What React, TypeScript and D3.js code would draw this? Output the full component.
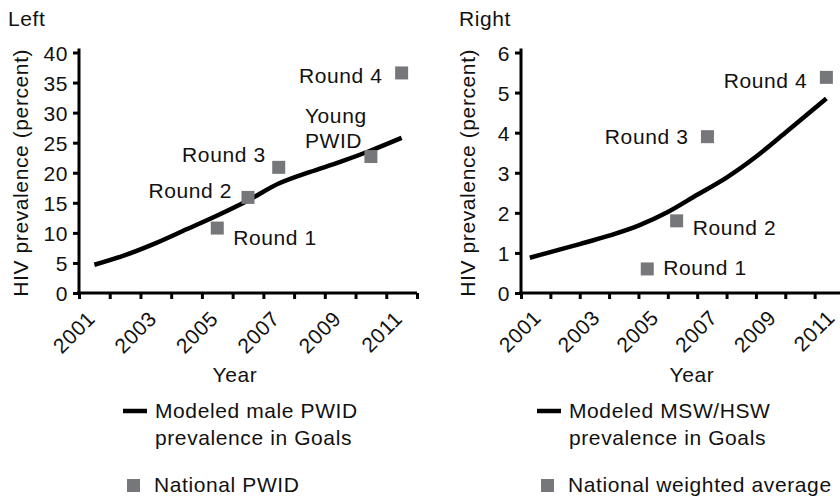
import * as d3 from 'd3'
import { useRef, useEffect } from 'react'

// modeled lines (years, percent)
const leftModelYears = [2001.5, 2002.5, 2003.5, 2004.5, 2005.5, 2006.5, 2007.5, 2008.5, 2009.5, 2010.5, 2011.5]
const leftModelValues = [4.7, 6.3, 8.3, 10.6, 12.9, 15.4, 18.2, 20.1, 21.8, 23.7, 25.8]
const rightModelYears = [2001.3, 2002, 2003, 2004, 2005, 2006, 2007, 2008, 2009, 2010, 2011.4]
const rightModelValues = [0.88, 1.02, 1.22, 1.43, 1.68, 2.02, 2.45, 2.88, 3.4, 4.0, 4.85]

// survey points
const leftPointLabels = ['Round 1', 'Round 2', 'Round 3', 'Young\nPWID', 'Round 4']
const leftPointYears = [2005.5, 2006.5, 2007.5, 2010.5, 2011.5]
const leftPointValues = [10.8, 15.9, 20.9, 22.7, 36.6]
const rightPointLabels = ['Round 1', 'Round 2', 'Round 3', 'Round 4']
const rightPointYears = [2005.3, 2006.3, 2007.35, 2011.4]
const rightPointValues = [0.6, 1.8, 3.9, 5.38]

const leftYTicks = [0, 5, 10, 15, 20, 25, 30, 35, 40]
const rightYTicks = [0, 1, 2, 3, 4, 5, 6]
const yearTicks = d3.range(2001, 2013)

// label placement relative to the point (pixels), anchor
const leftLabelPos = [
  { dx: 16, dy: 17, anchor: 'start' },
  { dx: -16, dy: 1, anchor: 'end' },
  { dx: -13, dy: -5, anchor: 'end' },
  { dx: -66, dy: -34, anchor: 'start' },
  { dx: -19, dy: 10, anchor: 'end' },
]
const rightLabelPos = [
  { dx: 16, dy: 6, anchor: 'start' },
  { dx: 16, dy: 14, anchor: 'start' },
  { dx: -19, dy: 7, anchor: 'end' },
  { dx: -19, dy: 11, anchor: 'end' },
]

const FONT = '"Liberation Sans", Arial, Helvetica, sans-serif'
const FS = 21
const GREY = '#76777b'
const INK = '#111'

export default function App() {
  const svgRef = useRef(null)

  useEffect(() => {
    const svg = d3.select(svgRef.current)
    svg.selectAll('*').remove()

    const panels = [
      {
        title: 'Left', titleX: 8, xRange: [79, 417], yMax: 40, yTicks: leftYTicks,
        modelYears: leftModelYears, modelValues: leftModelValues,
        ptYears: leftPointYears, ptValues: leftPointValues, ptLabels: leftPointLabels, labelPos: leftLabelPos,
        yLabelX: 28, xLabelX: 235, tickShift: [17, 27],
        legendX: 123, legendText: ['Modeled male PWID', 'prevalence in Goals'], legendPoint: 'National PWID',
      },
      {
        title: 'Right', titleX: 459, xRange: [521, 844], yMax: 6, yTicks: rightYTicks,
        modelYears: rightModelYears, modelValues: rightModelValues,
        ptYears: rightPointYears, ptValues: rightPointValues, ptLabels: rightPointLabels, labelPos: rightLabelPos,
        yLabelX: 475, xLabelX: 692, tickShift: [21, 26],
        legendX: 537, legendText: ['Modeled MSW/HSW', 'prevalence in Goals'], legendPoint: 'National weighted average',
      },
    ]

    panels.forEach(p => {
      const x = d3.scaleLinear().domain([2001, 2012]).range(p.xRange)
      const y = d3.scaleLinear().domain([0, p.yMax]).range([293, 52.5])
      const g = svg.append('g')
        .attr('font-family', FONT)
        .attr('letter-spacing', '0.6px')
        .attr('fill', INK)

      g.append('text')
        .attr('x', p.titleX).attr('y', 26)
        .attr('font-size', FS)
        .text(p.title)

      // y axis
      const ya = g.append('g')
        .attr('transform', `translate(${p.xRange[0]},0)`)
        .call(d3.axisLeft(y).tickValues(p.yTicks).tickFormat(d3.format('d'))
          .tickSize(6).tickSizeOuter(0).tickPadding(5))
      ya.select('.domain').attr('stroke-width', 3).attr('d', `M0,${y(p.yMax) - 4}V${y(0)}`)
      ya.selectAll('.tick line').attr('stroke-width', 3)
      ya.selectAll('.tick text')
        .attr('font-size', FS).attr('font-family', FONT).attr('fill', INK).attr('dy', '0.36em')
      ya.attr('font-family', null).attr('font-size', null)

      // x axis
      const xa = g.append('g')
        .attr('transform', 'translate(0,293)')
        .call(d3.axisBottom(x).tickValues(yearTicks).tickSize(6).tickSizeOuter(0)
          .tickFormat(d => ((d as number) % 2 === 1 ? String(d) : '')))
      xa.select('.domain').attr('stroke-width', 3).attr('d', `M${p.xRange[0] - 2},0H${p.xRange[1]}`)
      xa.selectAll('.tick line').attr('stroke-width', 3)
      xa.selectAll('.tick text')
        .attr('font-size', FS).attr('font-family', FONT).attr('fill', INK)
        .attr('x', 0).attr('y', 0).attr('dy', 0)
        .attr('text-anchor', 'end')
        .attr('transform', `translate(${p.tickShift[0]},${p.tickShift[1]}) rotate(-45)`)
      xa.attr('font-family', null).attr('font-size', null)

      // axis titles
      g.append('text')
        .attr('transform', `translate(${p.yLabelX},${(y(0) + y(p.yMax)) / 2}) rotate(-90)`)
        .attr('text-anchor', 'middle').attr('font-size', FS)
        .text('HIV prevalence (percent)')
      g.append('text')
        .attr('x', p.xLabelX).attr('y', 382)
        .attr('text-anchor', 'middle').attr('font-size', FS)
        .text('Year')

      // modeled line
      const line = d3.line<number>()
        .x((_, i) => x(p.modelYears[i]))
        .y(d => y(d))
        .curve(d3.curveMonotoneX)
      g.append('path')
        .datum(p.modelValues)
        .attr('d', line)
        .attr('fill', 'none').attr('stroke', '#000').attr('stroke-width', 4.5)

      // points
      const s = 13
      p.ptValues.forEach((v, i) => {
        const px = x(p.ptYears[i]), py = y(v)
        g.append('rect')
          .attr('x', px - s / 2).attr('y', py - s / 2)
          .attr('width', s).attr('height', s)
          .attr('fill', GREY)
        const pos = p.labelPos[i]
        const lines = p.ptLabels[i].split('\n')
        const t = g.append('text')
          .attr('font-size', FS).attr('text-anchor', pos.anchor)
        lines.forEach((l, j) => {
          t.append('tspan')
            .attr('x', px + pos.dx).attr('y', py + pos.dy + j * 25)
            .text(l)
        })
      })

      // legend
      g.append('line')
        .attr('x1', p.legendX).attr('x2', p.legendX + 24)
        .attr('y1', 411).attr('y2', 411)
        .attr('stroke', '#000').attr('stroke-width', 4.5)
      p.legendText.forEach((l, j) => {
        g.append('text')
          .attr('x', p.legendX + 32).attr('y', 418 + j * 27)
          .attr('font-size', FS)
          .text(l)
      })
      g.append('rect')
        .attr('x', p.legendX + 4).attr('y', 479)
        .attr('width', 13).attr('height', 13)
        .attr('fill', GREY)
      g.append('text')
        .attr('x', p.legendX + 31).attr('y', 492)
        .attr('font-size', FS)
        .text(p.legendPoint)
    })
  }, [])

  return (
    <svg ref={svgRef} width={840} height={496}
      style={{ position: 'absolute', left: 0, top: 0, background: '#fff' }} />
  )
}
